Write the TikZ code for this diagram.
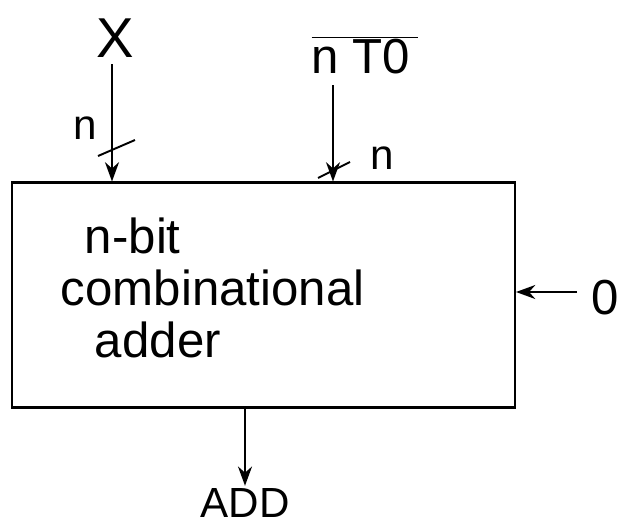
\documentclass[tikz,border=0pt]{standalone}
\usepackage{fontspec}
\setmainfont{Liberation Sans}
\usetikzlibrary{positioning,arrows.meta}
\tikzset{
  blockbox/.style={draw,line width=1.2pt,minimum width=10.06cm,minimum height=4.5cm,inner sep=0pt},
  lbl/.style={inner sep=1pt,font=\fontsize{28}{32}\selectfont},
  blocktext/.style={inner sep=0pt,anchor=west,font=\fontsize{28}{32}\selectfont},
  bus/.style={line width=1.1pt},
  arr/.style={bus,-{Stealth[length=11pt,width=8pt]}},
}
\begin{document}
\begin{tikzpicture}[x=0.02cm,y=-0.02cm,line width=1.1pt]
  \useasboundingbox (0,0) rectangle (628,528);
  % adder block
  \node[blockbox] (adder) at (263.5,295) {};
  \node[blocktext] (line1) at (84,236) {n-bit};
  \node[blocktext] (line2) at (60,288) {combinational};
  \node[blocktext] (line3) at (94,340) {adder};
  % inputs and output
  \node[lbl,font=\fontsize{32}{36}\selectfont] (xin) at (115,38) {X};
  \node[lbl] (nto) at (365,55) {$\overline{\mbox{n T0\,}}$};
  \node[lbl] (zero) at (605,298) {0};
  \node[lbl,font=\fontsize{24}{28}\selectfont] (add) at (245,503) {ADD};
  \coordinate (xtop) at (112,64);
  \coordinate (ntotop) at (333,85);
  \coordinate (zerofrom) at (577,292);
  \draw[arr] (xtop) -- (xtop |- adder.north);
  \draw[arr] (ntotop) -- (ntotop |- adder.north);
  \draw[arr] (zerofrom) -- (zerofrom -| adder.east);
  \draw[arr] (245,408) -- (add.north);
  % bus width marks
  \draw[bus] (98,156) -- (135,140);
  \node[lbl,font=\fontsize{24}{28}\selectfont] (nx) at (85,128) {n};
  \draw[bus] (318,178) -- (350,162);
  \node[lbl,font=\fontsize{24}{28}\selectfont] (nn) at (382,158) {n};
\end{tikzpicture}
\end{document}
